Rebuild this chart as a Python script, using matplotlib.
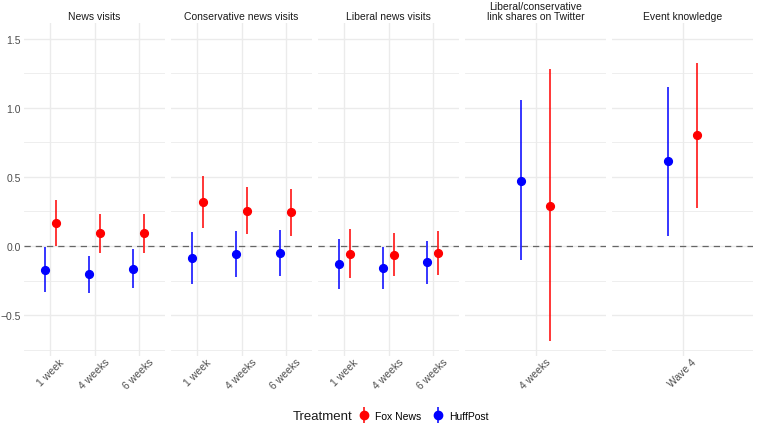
import matplotlib
matplotlib.use("Agg")
import matplotlib.pyplot as plt
import matplotlib.transforms as mtransforms
from matplotlib.lines import Line2D
from matplotlib.legend_handler import HandlerTuple

plt.rcParams["font.family"] = ["Liberation Sans", "DejaVu Sans"]

# Données
panels = ["News visits", "Conservative news visits", "Liberal news visits",
          "Liberal/conservative\nlink shares on Twitter", "Event knowledge"]
periods = [["1 week", "4 weeks", "6 weeks"],
           ["1 week", "4 weeks", "6 weeks"],
           ["1 week", "4 weeks", "6 weeks"],
           ["4 weeks"],
           ["Wave 4"]]

fox_est = [[0.165, 0.091, 0.091], [0.32, 0.257, 0.243], [-0.06, -0.062, -0.05], [0.293], [0.801]]
fox_lo = [[0.003, -0.05, -0.053], [0.127, 0.086, 0.072], [-0.235, -0.216, -0.208], [-0.69], [0.273]]
fox_hi = [[0.33, 0.23, 0.235], [0.51, 0.43, 0.41], [0.12, 0.094, 0.106], [1.278], [1.327]]

huff_est = [[-0.17, -0.206, -0.163], [-0.084, -0.057, -0.053], [-0.132, -0.158, -0.117], [0.468], [0.612]]
huff_lo = [[-0.335, -0.338, -0.302], [-0.273, -0.225, -0.22], [-0.31, -0.314, -0.273], [-0.103], [0.072]]
huff_hi = [[-0.007, -0.074, -0.024], [0.104, 0.108, 0.113], [0.05, -0.007, 0.036], [1.055], [1.151]]

FOX = "#FF0000"
HUFF = "#0000FF"
GRID = "#EBEBEB"
TICK = "#4D4D4D"
DODGE = 0.125

fig, axes = plt.subplots(1, 5, figsize=(7.57, 4.27), dpi=100, sharey=True)
fig.subplots_adjust(left=24 / 757, right=0.995, top=1 - 24 / 427, bottom=1 - 357 / 427, wspace=0.04)

# décalage léger des étiquettes x vers la droite (comme dans ggplot)
shift = mtransforms.ScaledTranslation(3 / 100, 0, fig.dpi_scale_trans)

for k, ax in enumerate(axes):
    n = len(periods[k])
    xs = list(range(n))
    for spine in ax.spines.values():
        spine.set_visible(False)
    ax.set_ylim(-0.796, 1.614)
    ax.set_xlim(-0.6, n - 0.4)
    ax.set_yticks([-0.5, 0.0, 0.5, 1.0, 1.5])
    ax.set_yticks([-0.75, -0.25, 0.25, 0.75, 1.25], minor=True)
    ax.set_xticks(xs)
    ax.set_xticklabels(periods[k], rotation=45, ha="center", va="top")
    for lab in ax.get_xticklabels():
        lab.set_transform(lab.get_transform() + shift)
    ax.tick_params(axis="y", which="both", length=0, labelsize=7.5, labelcolor=TICK, pad=2.5)
    ax.tick_params(axis="x", which="both", length=0, labelsize=7.5, labelcolor=TICK, pad=0.5)
    ax.grid(True, which="major", color=GRID, linewidth=1.0)
    ax.grid(True, which="minor", axis="y", color=GRID, linewidth=0.6)
    ax.set_axisbelow(True)
    ax.set_title(panels[k], fontsize=7.5, color="#1A1A1A", pad=3, linespacing=1.0)

    ax.axhline(0, color="#666666", linestyle=(0, (5, 4)), linewidth=0.9, zorder=1)

    for i in xs:
        ax.vlines(i - DODGE, huff_lo[k][i], huff_hi[k][i], color=HUFF, linewidth=1.1, zorder=2)
        ax.plot(i - DODGE, huff_est[k][i], "o", color=HUFF, markersize=5.6, zorder=3)
        ax.vlines(i + DODGE, fox_lo[k][i], fox_hi[k][i], color=FOX, linewidth=1.1, zorder=2)
        ax.plot(i + DODGE, fox_est[k][i], "o", color=FOX, markersize=5.6, zorder=3)

# Légende en bas
def key(color):
    bar = Line2D([], [], marker="|", color=color, markersize=12, markeredgewidth=1.1, linestyle="None")
    dot = Line2D([], [], marker="o", color=color, markersize=6, linestyle="None")
    return (bar, dot)

fig.text(293 / 757, 1 - 417 / 427, "Treatment", fontsize=9.5, color="#1A1A1A", ha="left", va="center")
fig.legend([key(FOX), key(HUFF)], ["Fox News", "HuffPost"],
           handler_map={tuple: HandlerTuple(ndivide=1)},
           loc="center left", bbox_to_anchor=(350 / 757, 1 - 417 / 427), ncol=2,
           frameon=False, fontsize=7.5, handlelength=1.2, handletextpad=0.5,
           columnspacing=1.0, borderpad=0.2)

plt.savefig("out.png", dpi=100)
